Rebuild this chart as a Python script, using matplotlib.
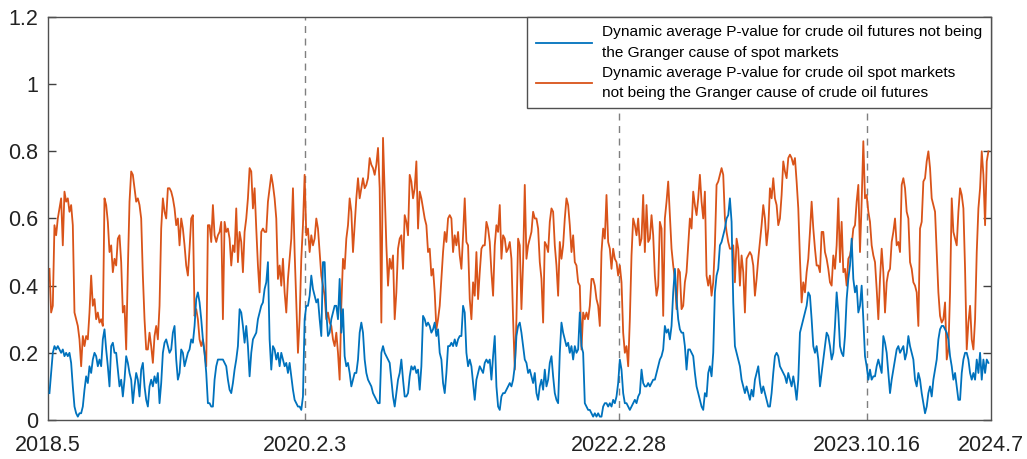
import numpy as np
import matplotlib
matplotlib.use('Agg')
import matplotlib.pyplot as plt

plt.rcParams['font.family'] = ['Liberation Sans', 'DejaVu Sans']

# dynamic average p-values, sampled evenly from 2018.5 to 2024.7
p_futures_to_spot = [
    0.08, 0.14, 0.20, 0.22, 0.21, 0.22, 0.21, 0.20, 0.21, 0.19, 0.20, 0.19, 0.20, 0.17, 0.10, 0.04,
    0.02, 0.01, 0.02, 0.02, 0.04, 0.09, 0.13, 0.11, 0.16, 0.14, 0.18, 0.20, 0.19, 0.16, 0.18, 0.16,
    0.24, 0.27, 0.21, 0.16, 0.10, 0.22, 0.23, 0.20, 0.20, 0.15, 0.10, 0.12, 0.07, 0.12, 0.19, 0.17,
    0.14, 0.12, 0.05, 0.10, 0.14, 0.12, 0.07, 0.15, 0.17, 0.10, 0.06, 0.04, 0.10, 0.12, 0.10, 0.13,
    0.11, 0.14, 0.05, 0.11, 0.20, 0.23, 0.24, 0.22, 0.20, 0.21, 0.26, 0.28, 0.18, 0.12, 0.14, 0.21,
    0.20, 0.16, 0.18, 0.20, 0.21, 0.24, 0.23, 0.28, 0.36, 0.38, 0.35, 0.30, 0.24, 0.20, 0.14, 0.05,
    # 2019 - 2020
    0.05, 0.04, 0.04, 0.12, 0.16, 0.18, 0.18, 0.18, 0.18, 0.17, 0.16, 0.12, 0.09, 0.08, 0.11, 0.15,
    0.18, 0.22, 0.33, 0.32, 0.28, 0.23, 0.28, 0.22, 0.13, 0.20, 0.24, 0.25, 0.26, 0.30, 0.32, 0.34,
    0.35, 0.39, 0.41, 0.47, 0.24, 0.15, 0.22, 0.21, 0.18, 0.20, 0.16, 0.20, 0.18, 0.16, 0.17, 0.14,
    0.17, 0.13, 0.09, 0.06, 0.05, 0.04, 0.04, 0.03, 0.07, 0.30, 0.34, 0.34, 0.37, 0.43, 0.39, 0.37,
    0.35, 0.36, 0.30, 0.25, 0.47, 0.47, 0.32, 0.25, 0.26, 0.30, 0.32, 0.34, 0.34, 0.30, 0.42, 0.26,
    0.33, 0.19, 0.16, 0.17, 0.14, 0.10, 0.12, 0.14, 0.14, 0.18,
    # 2020 - 2021
    0.26, 0.29, 0.26, 0.18, 0.14, 0.12, 0.11, 0.10, 0.08, 0.07, 0.06, 0.05, 0.05, 0.20, 0.22, 0.20,
    0.19, 0.18, 0.17, 0.12, 0.07, 0.04, 0.08, 0.12, 0.14, 0.18, 0.12, 0.07, 0.07, 0.08, 0.13, 0.16,
    0.15, 0.16, 0.14, 0.15, 0.09, 0.16, 0.31, 0.30, 0.28, 0.29, 0.28, 0.26, 0.27, 0.29, 0.25, 0.27,
    0.20, 0.18, 0.11, 0.08, 0.14, 0.22, 0.22, 0.23, 0.22, 0.24, 0.22, 0.24, 0.25, 0.25, 0.34, 0.32,
    0.20, 0.16, 0.18, 0.16, 0.11, 0.06, 0.12, 0.14, 0.16, 0.15, 0.14, 0.17, 0.18, 0.17, 0.18, 0.12,
    0.19, 0.25, 0.10, 0.04, 0.03, 0.07, 0.08, 0.08, 0.09, 0.10, 0.11, 0.10, 0.12, 0.16, 0.25, 0.28,
    # 2021 - 2022
    0.29, 0.26, 0.22, 0.18, 0.17, 0.14, 0.15, 0.13, 0.11, 0.14, 0.08, 0.06, 0.10, 0.12, 0.09, 0.15,
    0.10, 0.12, 0.17, 0.19, 0.13, 0.08, 0.06, 0.05, 0.20, 0.29, 0.26, 0.24, 0.22, 0.23, 0.20, 0.22,
    0.18, 0.22, 0.20, 0.21, 0.32, 0.22, 0.20, 0.05, 0.04, 0.03, 0.03, 0.02, 0.01, 0.02, 0.01, 0.02,
    0.01, 0.01, 0.04, 0.05, 0.05, 0.04, 0.05, 0.04, 0.06, 0.05, 0.07, 0.11, 0.18, 0.15, 0.08, 0.05,
    0.05, 0.04, 0.03, 0.04, 0.05, 0.06, 0.05, 0.07, 0.08, 0.15, 0.11, 0.10, 0.10, 0.11, 0.10, 0.11,
    0.12, 0.12, 0.14, 0.16, 0.18, 0.19, 0.21, 0.28, 0.26, 0.27, 0.24, 0.28, 0.38, 0.45, 0.36, 0.30,
    # 2022 - 2023
    0.27, 0.26, 0.26, 0.22, 0.15, 0.21, 0.21, 0.20, 0.19, 0.14, 0.10, 0.08, 0.06, 0.04, 0.03, 0.08,
    0.07, 0.14, 0.16, 0.13, 0.20, 0.38, 0.43, 0.45, 0.52, 0.53, 0.55, 0.57, 0.60, 0.61, 0.66, 0.59,
    0.35, 0.22, 0.20, 0.18, 0.16, 0.12, 0.10, 0.08, 0.10, 0.08, 0.06, 0.09, 0.07, 0.12, 0.14, 0.16,
    0.11, 0.08, 0.10, 0.08, 0.06, 0.04, 0.04, 0.08, 0.14, 0.19, 0.20, 0.19, 0.16, 0.15, 0.14, 0.13,
    0.11, 0.14, 0.12, 0.10, 0.13, 0.10, 0.06, 0.12, 0.26, 0.28, 0.30, 0.32, 0.34, 0.38, 0.37, 0.30,
    0.22, 0.20, 0.22, 0.18, 0.10, 0.14, 0.18, 0.22, 0.26, 0.25, 0.22, 0.18, 0.20, 0.28, 0.38, 0.32,
    # 2023 - 2024.7
    0.22, 0.20, 0.19, 0.25, 0.36, 0.42, 0.46, 0.54, 0.42, 0.38, 0.40, 0.32, 0.34, 0.40, 0.30, 0.19,
    0.16, 0.12, 0.15, 0.12, 0.13, 0.13, 0.16, 0.18, 0.16, 0.14, 0.25, 0.23, 0.20, 0.14, 0.08, 0.12,
    0.15, 0.18, 0.21, 0.22, 0.20, 0.21, 0.22, 0.18, 0.20, 0.25, 0.22, 0.20, 0.18, 0.12, 0.10, 0.14,
    0.12, 0.08, 0.05, 0.02, 0.04, 0.08, 0.10, 0.07, 0.12, 0.15, 0.18, 0.24, 0.27, 0.28, 0.28, 0.27,
    0.26, 0.24, 0.19, 0.16, 0.12, 0.14, 0.10, 0.06, 0.06, 0.14, 0.18, 0.20, 0.20, 0.18, 0.14, 0.12,
    0.14, 0.12, 0.18, 0.14, 0.20, 0.12, 0.18, 0.14, 0.18, 0.17,
]

p_spot_to_futures = [
    0.45, 0.32, 0.34, 0.58, 0.55, 0.60, 0.63, 0.66, 0.52, 0.68, 0.65, 0.66, 0.62, 0.64, 0.58, 0.32,
    0.30, 0.28, 0.24, 0.16, 0.25, 0.22, 0.25, 0.24, 0.32, 0.43, 0.34, 0.36, 0.30, 0.32, 0.29, 0.30,
    0.28, 0.66, 0.64, 0.59, 0.50, 0.52, 0.44, 0.48, 0.46, 0.54, 0.55, 0.47, 0.32, 0.34, 0.21, 0.45,
    0.65, 0.74, 0.73, 0.69, 0.65, 0.66, 0.64, 0.60, 0.43, 0.30, 0.21, 0.21, 0.26, 0.22, 0.17, 0.25,
    0.28, 0.24, 0.34, 0.57, 0.66, 0.62, 0.60, 0.69, 0.69, 0.68, 0.66, 0.63, 0.58, 0.60, 0.52, 0.60,
    0.57, 0.52, 0.46, 0.43, 0.51, 0.60, 0.61, 0.31, 0.33, 0.30, 0.24, 0.22, 0.24, 0.20, 0.16, 0.58,
    # 2019 - 2020
    0.58, 0.53, 0.64, 0.55, 0.53, 0.55, 0.56, 0.59, 0.30, 0.59, 0.56, 0.57, 0.54, 0.46, 0.52, 0.50,
    0.63, 0.47, 0.56, 0.53, 0.44, 0.56, 0.60, 0.66, 0.75, 0.74, 0.63, 0.69, 0.57, 0.46, 0.38, 0.56,
    0.57, 0.56, 0.56, 0.65, 0.69, 0.73, 0.70, 0.66, 0.60, 0.42, 0.46, 0.40, 0.48, 0.38, 0.32, 0.42,
    0.48, 0.54, 0.69, 0.50, 0.35, 0.20, 0.30, 0.48, 0.58, 0.73, 0.55, 0.57, 0.50, 0.55, 0.52, 0.54,
    0.60, 0.57, 0.50, 0.43, 0.40, 0.37, 0.30, 0.32, 0.29, 0.28, 0.24, 0.22, 0.26, 0.20, 0.12, 0.34,
    0.48, 0.45, 0.54, 0.58, 0.66, 0.62, 0.50, 0.58, 0.66, 0.72,
    # 2020 - 2021
    0.66, 0.69, 0.72, 0.69, 0.70, 0.72, 0.78, 0.76, 0.75, 0.73, 0.76, 0.81, 0.69, 0.29, 0.84, 0.68,
    0.52, 0.40, 0.48, 0.45, 0.49, 0.30, 0.38, 0.51, 0.54, 0.55, 0.45, 0.61, 0.59, 0.55, 0.73, 0.71,
    0.66, 0.69, 0.77, 0.57, 0.68, 0.66, 0.63, 0.60, 0.58, 0.50, 0.51, 0.43, 0.45, 0.38, 0.27, 0.30,
    0.34, 0.42, 0.50, 0.56, 0.53, 0.60, 0.61, 0.60, 0.50, 0.55, 0.52, 0.56, 0.49, 0.45, 0.55, 0.66,
    0.53, 0.52, 0.36, 0.30, 0.41, 0.37, 0.50, 0.36, 0.44, 0.51, 0.52, 0.52, 0.59, 0.57, 0.53, 0.44,
    0.37, 0.52, 0.58, 0.56, 0.64, 0.48, 0.55, 0.54, 0.50, 0.51, 0.53, 0.48, 0.30, 0.15, 0.30, 0.54,
    # 2021 - 2022
    0.52, 0.33, 0.47, 0.70, 0.48, 0.52, 0.54, 0.56, 0.62, 0.60, 0.60, 0.57, 0.47, 0.42, 0.29, 0.53,
    0.52, 0.50, 0.59, 0.63, 0.62, 0.52, 0.46, 0.37, 0.53, 0.48, 0.52, 0.60, 0.66, 0.64, 0.58, 0.50,
    0.55, 0.47, 0.46, 0.41, 0.40, 0.21, 0.32, 0.30, 0.32, 0.30, 0.34, 0.42, 0.42, 0.40, 0.36, 0.34,
    0.28, 0.50, 0.57, 0.54, 0.67, 0.53, 0.51, 0.45, 0.51, 0.48, 0.47, 0.43, 0.46, 0.41, 0.26, 0.20,
    0.22, 0.16, 0.30, 0.49, 0.60, 0.58, 0.55, 0.60, 0.52, 0.54, 0.67, 0.50, 0.64, 0.53, 0.54, 0.61,
    0.55, 0.43, 0.37, 0.40, 0.59, 0.57, 0.31, 0.60, 0.65, 0.71, 0.61, 0.51, 0.46, 0.42, 0.33, 0.45,
    # 2022 - 2023
    0.44, 0.33, 0.34, 0.41, 0.44, 0.52, 0.60, 0.57, 0.68, 0.64, 0.61, 0.66, 0.73, 0.65, 0.60, 0.68,
    0.43, 0.40, 0.43, 0.37, 0.41, 0.52, 0.70, 0.71, 0.73, 0.75, 0.73, 0.60, 0.56, 0.53, 0.51, 0.51,
    0.52, 0.41, 0.54, 0.51, 0.40, 0.49, 0.44, 0.32, 0.48, 0.49, 0.50, 0.49, 0.46, 0.37, 0.42, 0.48,
    0.53, 0.58, 0.64, 0.60, 0.52, 0.57, 0.69, 0.66, 0.72, 0.66, 0.64, 0.58, 0.60, 0.67, 0.77, 0.74,
    0.72, 0.78, 0.79, 0.78, 0.76, 0.78, 0.71, 0.63, 0.48, 0.35, 0.41, 0.38, 0.44, 0.48, 0.56, 0.65,
    0.57, 0.51, 0.46, 0.46, 0.44, 0.56, 0.56, 0.50, 0.48, 0.45, 0.41, 0.40, 0.49, 0.45, 0.52, 0.66,
    # 2023 - 2024.7
    0.47, 0.59, 0.44, 0.45, 0.40, 0.48, 0.49, 0.52, 0.57, 0.58, 0.65, 0.70, 0.50, 0.65, 0.83, 0.66,
    0.67, 0.62, 0.59, 0.52, 0.49, 0.47, 0.39, 0.30, 0.42, 0.51, 0.44, 0.32, 0.41, 0.44, 0.45, 0.53,
    0.56, 0.60, 0.52, 0.53, 0.50, 0.70, 0.72, 0.69, 0.62, 0.60, 0.47, 0.45, 0.41, 0.40, 0.38, 0.28,
    0.57, 0.59, 0.71, 0.72, 0.77, 0.80, 0.75, 0.66, 0.64, 0.62, 0.50, 0.38, 0.31, 0.29, 0.30, 0.35,
    0.18, 0.21, 0.38, 0.66, 0.56, 0.54, 0.52, 0.62, 0.69, 0.67, 0.63, 0.45, 0.21, 0.29, 0.34, 0.24,
    0.21, 0.30, 0.50, 0.63, 0.69, 0.80, 0.73, 0.58, 0.77, 0.80,
]

# x tick labels and where they fall on the observation index
tick_labels = ['2018.5', '2020.2.3', '2022.2.28', '2023.10.16', '2024.7']
tick_pos = [-0.9, 153.4, 341.4, 490.0, 564.4]
event_pos = tick_pos[1:4]

label_blue = 'Dynamic average P-value for crude oil futures not being\nthe Granger cause of spot markets'
label_orange = 'Dynamic average P-value for crude oil spot markets\nnot being the Granger cause of crude oil futures'

x = np.arange(len(p_futures_to_spot))

fig = plt.figure(figsize=(10.27, 4.59), dpi=100)
ax = fig.add_axes([0.0467, 0.085, 0.918, 0.878])

for xp in event_pos:
    ax.axvline(xp, color='#7f7f7f', lw=1.0, ls=(0, (5, 4)), zorder=1)

ax.plot(x, p_futures_to_spot, color='#0072BD', lw=1.3, label=label_blue, zorder=3)
ax.plot(x, p_spot_to_futures, color='#D95319', lw=1.3, label=label_orange, zorder=2)

ax.set_xlim(tick_pos[0], tick_pos[-1])
ax.set_ylim(0, 1.2)
ax.set_yticks([0, 0.2, 0.4, 0.6, 0.8, 1.0, 1.2])
ax.set_yticklabels(['0', '0.2', '0.4', '0.6', '0.8', '1', '1.2'])
ax.set_xticks(tick_pos)
ax.set_xticklabels(tick_labels)
ax.tick_params(axis='y', direction='in', left=True, right=True, length=6,
               width=1, colors='#404040', labelsize=15.5, labelcolor='#222222', pad=7)
ax.tick_params(axis='x', direction='in', length=0, labelsize=15.5,
               labelcolor='#222222', pad=11)
for s in ax.spines.values():
    s.set_color('#505050')
    s.set_linewidth(1.0)

leg = ax.legend(loc='upper right', borderaxespad=0, fontsize=11.1,
                handlelength=3.65, handletextpad=0.65, labelspacing=0.4,
                borderpad=0.55, fancybox=False, framealpha=1)
leg.get_frame().set_edgecolor('#505050')
leg.get_frame().set_linewidth(1.0)
for t in leg.get_texts():
    t.set_linespacing(1.55)

plt.savefig('out.png', dpi=100)
